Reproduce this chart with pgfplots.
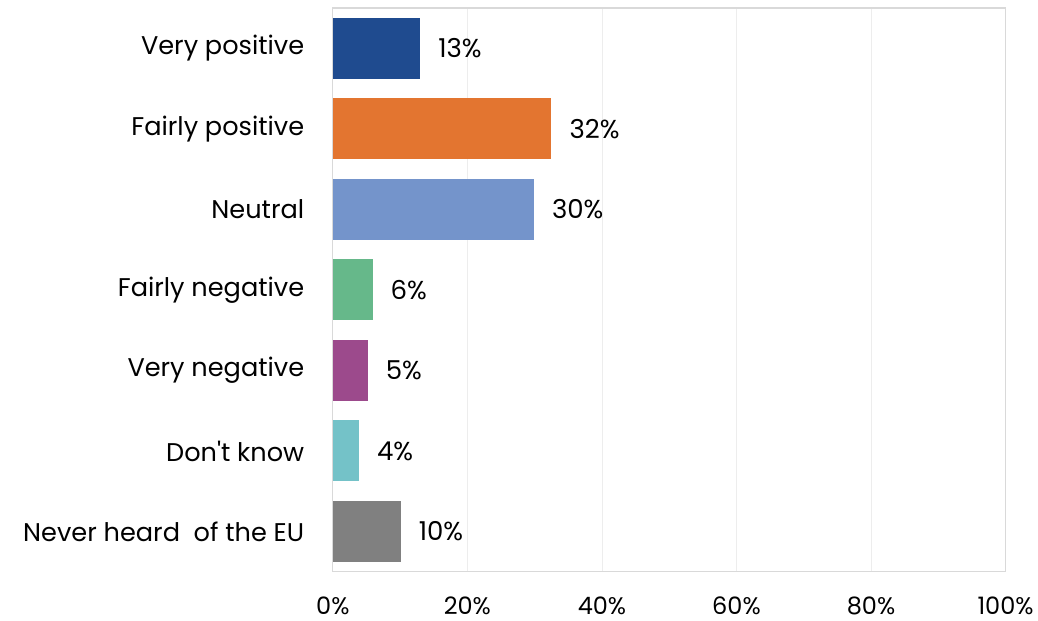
\documentclass[border=0pt]{standalone}
\usepackage{pgfplots}
\pgfplotsset{compat=1.18}
\usepackage{fontspec}
\setmainfont{Poppins}
\definecolor{c1}{HTML}{1F4B8F}
\definecolor{c2}{HTML}{E37530}
\definecolor{c3}{HTML}{7494CB}
\definecolor{c4}{HTML}{66B88A}
\definecolor{c5}{HTML}{9C4A8C}
\definecolor{c6}{HTML}{74C2C8}
\definecolor{c7}{HTML}{808080}
\begin{document}
\begin{tikzpicture}[x=0.75pt,y=0.75pt]
\path (0,0) rectangle (1038,621);
\begin{axis}[
  at={(333pt*0.75,49pt*0.75)}, anchor=south west,
  scale only axis,
  width=504.75pt, height=423pt,
  xbar, bar width=45.75pt, bar shift=0pt,
  xmin=0, xmax=100,
  ymin=-0.5, ymax=6.5, y dir=reverse,
  ytick={0,1,2,3,4,5,6},
  yticklabels={Very positive,Fairly positive,Neutral,Fairly negative,Very negative,Don\textquotesingle t know,Never heard\ \ of the EU},
  xtick={0,20,40,60,80,100},
  xticklabel={\pgfmathprintnumber[assume math mode=true]{\tick}\%},
  major tick length=0pt,
  xmajorgrids, grid style={draw=black!7, line width=0.6pt},
  axis line style={draw=black!15, line width=0.9pt},
  xticklabel style={font=\fontsize{18}{21}\selectfont, yshift=-15pt},
  yticklabel style={font=\fontsize{19.2}{23}\selectfont, xshift=-18pt},
  point meta=explicit symbolic,
  nodes near coords,
  nodes near coords style={anchor=west, xshift=10pt, font=\fontsize{19.5}{23}\selectfont, black},
  every axis plot/.append style={draw=none},
]
\addplot[fill=c1] coordinates {(13,0) [13\%]};
\addplot[fill=c2] coordinates {(32.5,1) [32\%]};
\addplot[fill=c3] coordinates {(29.9,2) [30\%]};
\addplot[fill=c4] coordinates {(5.9,3) [6\%]};
\addplot[fill=c5] coordinates {(5.2,4) [5\%]};
\addplot[fill=c6] coordinates {(3.9,5) [4\%]};
\addplot[fill=c7] coordinates {(10.1,6) [10\%]};
\end{axis}
\end{tikzpicture}
\end{document}
